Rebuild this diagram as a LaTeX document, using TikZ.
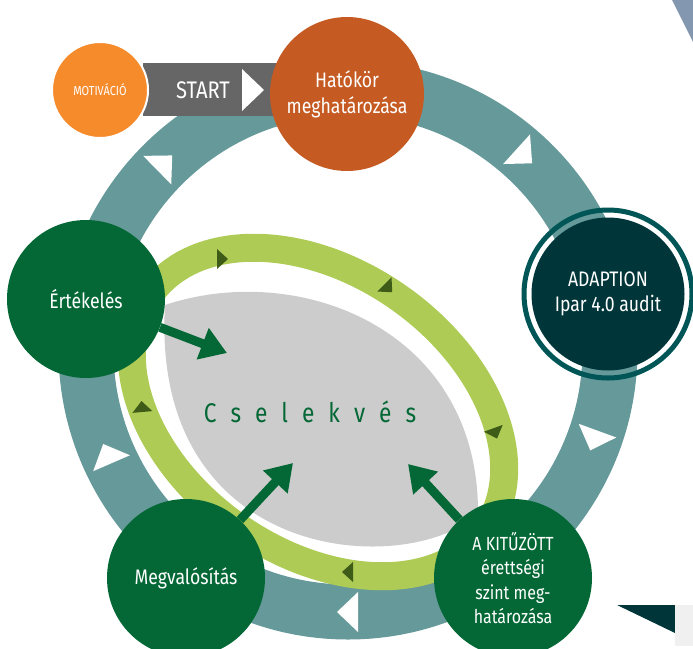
\documentclass[tikz,border=0pt]{standalone}
\usepackage{fontspec}
\setmainfont{Fira Sans}[FakeStretch=0.84]
\usetikzlibrary{calc,arrows.meta}

\definecolor{ringteal}{HTML}{669999}
\definecolor{ringlime}{HTML}{AECC55}
\definecolor{tipolive}{HTML}{3E5B18}
\definecolor{blobgrey}{HTML}{CCCCCC}
\definecolor{stepgreen}{HTML}{036835}
\definecolor{motorange}{HTML}{F68B2C}
\definecolor{scopebrown}{HTML}{C55B23}
\definecolor{startgrey}{HTML}{666666}
\definecolor{auditdark}{HTML}{00363A}
\definecolor{auditrim}{HTML}{005656}
\definecolor{cornerblue}{HTML}{8497B0}
\definecolor{cornerlight}{HTML}{F0F0F0}

\newcommand{\lettergap}{\hspace{14pt}}

\tikzset{
	phase/.style={circle, fill=stepgreen, text=white, minimum size=158, inner sep=0pt, align=center, font=\fontsize{21}{24}\selectfont},
	bigarrow/.style={draw=stepgreen, line width=9, -{Triangle[width=32,length=26]}},
}

\begin{document}
\begin{tikzpicture}[x=1pt,y=-1pt]
	\useasboundingbox (0,0) rectangle (693,648);
	
	% outer ring
	\coordinate (ring) at (348,350);
	\draw[ringteal, line width=55] (ring) circle [radius=262];
	\foreach \a in {225.5,312.2,20.1,90,156.6}
		\fill[white] ($(ring)+(\a:262)+(\a+90:11)$) -- ($(ring)+(\a:262)+(\a-90:10)+(\a:20)$) -- ($(ring)+(\a:262)+(\a-90:10)+(\a+180:20)$) -- cycle;
	
	% start bar
	\fill[startgrey] (143,63) rectangle (300,116);
	\node[text=white, font=\fontsize{24}{28}\selectfont] (start) at (203,90) {START};
	\fill[white] (242,69) -- (264,90) -- (242,111) -- cycle;
	\node[circle, fill=motorange, draw=white, line width=2, minimum size=96, inner sep=0pt, text=white, font=\fontsize{13}{15}\selectfont] (motiv) at (100,90) {MOTIVÁCIÓ};
	\node[phase, fill=scopebrown, minimum size=154] (scope) at (347,94) {Hatókör\\[2pt]meghatározása};
	
	% inner ring
	\draw[ringlime, line width=28, rotate around={-35:(318,412)}] (318,412) ellipse [x radius=205, y radius=140];
	\foreach \x/\y/\d in {222/259/0, 388/288/45, 495/433/70, 348/572/180, 142/407/-95}
		\fill[tipolive] ($(\x,\y)+(\d:6)$) -- ($(\x,\y)+(\d+180:5)+(\d+90:10)$) -- ($(\x,\y)+(\d+180:5)+(\d-90:10)$) -- cycle;
	
	% centre
	\fill[blobgrey] (165,305) .. controls (300,260) and (480,330) .. (478,515) .. controls (400,580) and (150,560) .. (165,305) -- cycle;
	\node[text=stepgreen, font=\fontsize{27}{30}\selectfont] (act) at (310,412) {C\lettergap s\lettergap e\lettergap l\lettergap e\lettergap k\lettergap v\lettergap é\lettergap s};
	
	% phases
	\draw[auditrim, line width=5] (608,294) circle [radius=84];
	\node[circle, fill=auditdark, text=white, minimum size=153, inner sep=0pt, align=center, font=\fontsize{21}{25}\selectfont] (audit) at (608,294) {ADAPTION\\Ipar 4.0 audit};
	\node[phase] (eval) at (86,299) {Értékelés};
	\node[phase] (impl) at (186,578) {Megvalósítás};
	\node[phase, font=\fontsize{19}{24.5}\selectfont] (goal) at (513,578) {A KITŰZÖTT\\érettségi\\szint meg-\\határozása};
	
	% arrows into the centre
	\coordinate (evaltip) at (227,353);
	\coordinate (impltip) at (293,463);
	\coordinate (goaltip) at (408,464);
	\draw[bigarrow] (eval) -- (evaltip);
	\draw[bigarrow] (impl) -- (impltip);
	\draw[bigarrow] (goal) -- (goaltip);
	
	% corners
	\fill[cornerblue] (672,0) -- (693,0) -- (693,42) -- cycle;
	\fill[auditdark] (617,605) -- (675,605) -- (675,633) -- cycle;
	\fill[cornerlight] (675,605) rectangle (693,646);
\end{tikzpicture}
\end{document}
